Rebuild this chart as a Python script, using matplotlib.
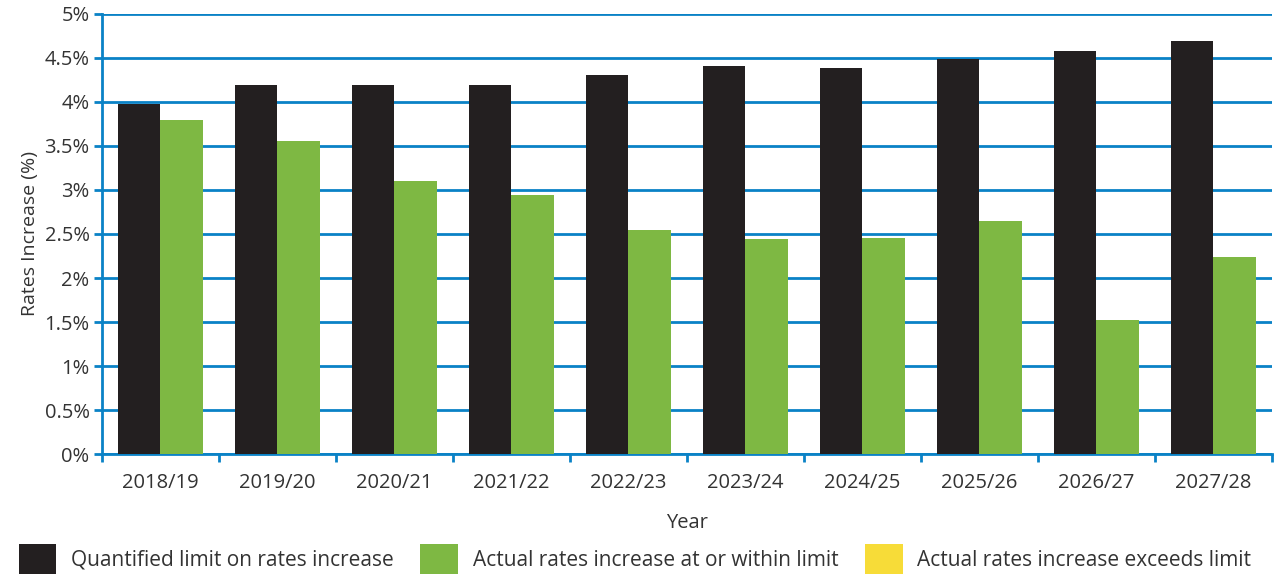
import matplotlib
matplotlib.use("Agg")
import matplotlib.pyplot as plt
import numpy as np
from matplotlib.patches import Patch
from matplotlib.ticker import FixedLocator, FuncFormatter

years = ["2018/19", "2019/20", "2020/21", "2021/22", "2022/23",
         "2023/24", "2024/25", "2025/26", "2026/27", "2027/28"]
limit = [3.98, 4.19, 4.19, 4.19, 4.31, 4.41, 4.39, 4.49, 4.58, 4.69]
actual = [3.80, 3.56, 3.10, 2.94, 2.55, 2.44, 2.45, 2.65, 1.52, 2.24]
y_ticks = [0, 0.5, 1, 1.5, 2, 2.5, 3, 3.5, 4, 4.5, 5]

labels = ["Quantified limit on rates increase",
          "Actual rates increase at or within limit",
          "Actual rates increase exceeds limit"]

BLACK = "#231f20"
GREEN = "#7eb843"
YELLOW = "#f7dc38"
BLUE = "#0a82c6"
TEXT = "#333333"

plt.rcParams['font.family'] = ['Open Sans', 'DejaVu Sans']

fig = plt.figure(figsize=(12.75, 5.75), dpi=100)
ax = fig.add_axes([0.08, 0.2104, 0.9176, 0.7653])

x = np.arange(len(years))
w = 0.36
ax.bar(x - w/2, limit, width=w, color=BLACK, zorder=3)
ax.bar(x + w/2, actual, width=w, color=GREEN, zorder=3)

ax.set_xlim(-0.5, len(years) - 0.5)
ax.set_ylim(0, 5)
ax.yaxis.set_major_locator(FixedLocator(y_ticks))
ax.yaxis.set_major_formatter(FuncFormatter(lambda v, p: f"{v:g}%"))
ax.grid(axis='y', color=BLUE, linewidth=2, zorder=0)
ax.set_axisbelow(True)

ax.set_xticks(x)
ax.set_xticklabels(years)
ax.set_xticks(np.arange(-0.5, len(years)), minor=True)
ax.tick_params(axis='x', which='major', length=0, pad=14, labelsize=14.5, labelcolor=TEXT)
ax.tick_params(axis='x', which='minor', length=6, width=2, color=BLUE, direction='out')
ax.tick_params(axis='y', length=6, width=2, color=BLUE, direction='out', labelsize=14.5,
               labelcolor=TEXT, pad=3)

for s in ['top', 'right']:
    ax.spines[s].set_visible(False)
for s in ['left', 'bottom']:
    ax.spines[s].set_color(BLUE)
    ax.spines[s].set_linewidth(2)

ax.set_ylabel("Rates Increase (%)", fontsize=14, color=TEXT, labelpad=4)
ax.set_xlabel("Year", fontsize=14.5, color=TEXT, labelpad=14)

handles = [Patch(facecolor=BLACK), Patch(facecolor=GREEN), Patch(facecolor=YELLOW)]
fig.legend(handles, labels, loc='lower left', bbox_to_anchor=(0.008, -0.012), ncol=3,
           frameon=False, fontsize=15, handlelength=1.8, handleheight=1.8,
           handletextpad=0.7, columnspacing=1.3, labelcolor=TEXT, borderaxespad=0)

fig.savefig("out.png", dpi=100)
